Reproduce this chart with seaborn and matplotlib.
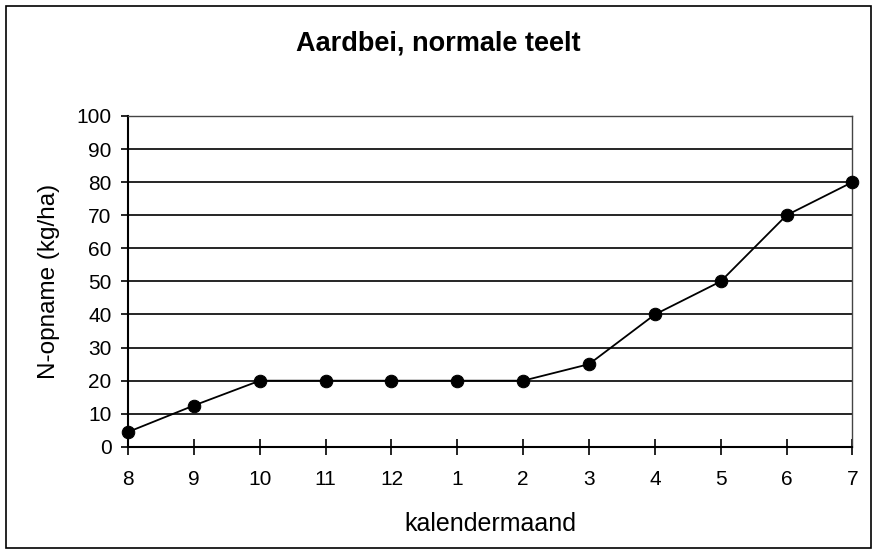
import pandas as pd
import matplotlib.pyplot as plt
import matplotlib.patches as mpatches
import seaborn as sns

# data
maanden = ["8", "9", "10", "11", "12", "1", "2", "3", "4", "5", "6", "7"]
n_opname = [4.5, 12.5, 20, 20, 20, 20, 20, 25, 40, 50, 70, 80]

df = pd.DataFrame({"pos": range(len(maanden)), "maand": maanden, "n": n_opname})

sns.set_style("white")
plt.rcParams["font.family"] = ["Liberation Sans", "DejaVu Sans"]
plt.rcParams["text.color"] = "black"
plt.rcParams["axes.labelcolor"] = "black"
plt.rcParams["xtick.color"] = "black"
plt.rcParams["ytick.color"] = "black"

fig = plt.figure(figsize=(8.77, 5.6), dpi=100)
ax = fig.add_axes([0.146, 0.202, 0.826, 0.591])

sns.lineplot(data=df, x="pos", y="n", color="black", linewidth=1.3,
             marker="o", markersize=9, markeredgecolor="black", ax=ax, clip_on=False, zorder=5)

ax.set_xlim(0, len(maanden) - 1)
ax.set_ylim(0, 100)
ax.set_xticks(range(len(maanden)))
ax.set_xticklabels(maanden)
ax.set_yticks(range(0, 101, 10))
ax.yaxis.grid(True, color="black", linewidth=1.2)
ax.set_axisbelow(True)

for side in ["left", "bottom"]:
    ax.spines[side].set_color("black")
    ax.spines[side].set_linewidth(1.5)
for side in ["top", "right"]:
    ax.spines[side].set_color("#444444")
    ax.spines[side].set_linewidth(1.0)

ax.tick_params(axis="both", which="both", width=1.2, color="black",
               labelsize=15, left=True, bottom=True)
ax.tick_params(axis="x", direction="inout", length=12, pad=11)
ax.tick_params(axis="y", direction="out", length=5, pad=7)

ax.set_xlabel("kalendermaand", fontsize=18, labelpad=16)
ax.set_ylabel("N-opname (kg/ha)", fontsize=17.5, labelpad=12)
fig.suptitle("Aardbei, normale teelt", fontsize=19.5, fontweight="bold", y=0.945)

# figure border
fig.patches.append(mpatches.Rectangle((6 / 877, 1 - 548 / 560), 865 / 877, 542 / 560,
                                      transform=fig.transFigure, fill=False,
                                      edgecolor="black", linewidth=1.2))

fig.savefig("out.png", dpi=100)
